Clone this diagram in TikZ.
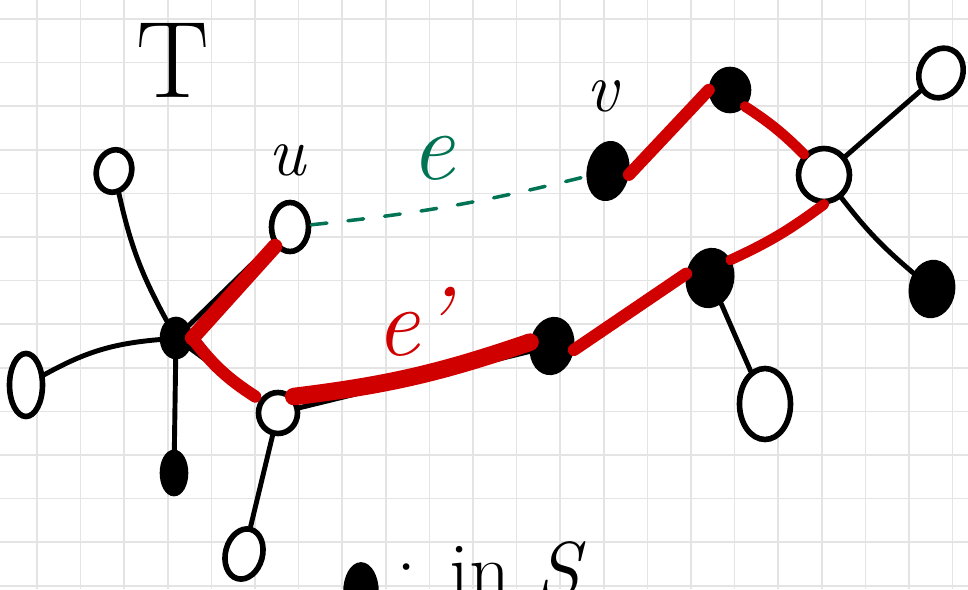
\documentclass[tikz,border=0pt]{standalone}
\usepackage{tikz}
\usetikzlibrary{positioning}
\usetikzlibrary{shapes.geometric}
\usetikzlibrary{calc}

\definecolor{penred}{RGB}{208,0,0}
\definecolor{pengreen}{RGB}{0,115,85}
\definecolor{gridgray}{RGB}{228,228,228}

\begin{document}
\begin{tikzpicture}[
  x=0.02cm, y=-0.02cm,
  vopen/.style 2 args={
    ellipse,
    draw=black,
    line width=3.2pt,
    fill=white,
    inner sep=0pt,
    minimum width=#1,
    minimum height=#2
  },
  vfull/.style 2 args={
    ellipse,
    draw=black,
    line width=3.2pt,
    fill=black,
    inner sep=0pt,
    minimum width=#1,
    minimum height=#2
  },
  tedge/.style={line width=2.8pt, line cap=round, black},
  pedge/.style={line width=#1, line cap=round, penred},
  pedge/.default=7pt,
  bridge/.style={line width=2pt, line cap=round, pengreen, dash pattern=on 9pt off 12pt},
  gridline/.style={line width=1pt, gridgray},
  lbl/.style={inner sep=0pt, font=\fontsize{40}{40}\selectfont\itshape}
]

% ===================== paper =====================
\useasboundingbox (0,0) rectangle (968,589);
\clip (0,0) rectangle (968,589);
\fill[white] (0,0) rectangle (968,589);
\foreach \k in {0,...,21}
  \draw[gridline] (37+43.6*\k,0) -- (37+43.6*\k,589);
\foreach \k in {0,...,13}
  \draw[gridline] (0,19+43.6*\k) -- (968,19+43.6*\k);

% ===================== tree T =====================
\node[vopen={0.7cm}{0.86cm}, rotate=-15] (tl)   at (114,171) {};
\node[vopen={0.74cm}{0.98cm}]             (u)    at (290,227) {};
\node[vopen={0.66cm}{1.26cm}]             (lft)  at (26,385)  {};
\node[vopen={0.78cm}{0.82cm}]             (low)  at (278,413) {};
\node[vopen={0.74cm}{1.02cm}, rotate=-15] (bot)  at (244,554) {};
\node[vopen={1.02cm}{1.42cm}]             (rlow) at (765,404) {};
\node[vopen={1.02cm}{1.06cm}]             (rhub) at (824,175) {};
\node[vopen={0.86cm}{1.02cm}, rotate=-25] (tr)   at (941,73)  {};

\node[vfull={0.54cm}{0.74cm}]             (hub)  at (176,338) {};
\node[vfull={0.46cm}{0.82cm}]             (bl)   at (174,473) {};
\node[vfull={0.78cm}{1.06cm}, rotate=-10] (mid)  at (552,346) {};
\node[vfull={0.86cm}{1.1cm}, rotate=-10]  (rmid) at (710,278) {};
\node[vfull={0.74cm}{1.1cm}, rotate=-10]  (v)    at (608,171) {};
\node[vfull={0.74cm}{0.82cm}]             (top)  at (730,90)  {};
\node[vfull={0.82cm}{1.06cm}, rotate=-8]  (rb)   at (932,289) {};

\draw[tedge] (tl) to[bend right=8] (hub);
\draw[tedge] (lft) to[bend left=12] (hub);
\draw[tedge] (hub) -- (bl);
\draw[tedge] (u) -- (hub);
\draw[tedge] (hub) -- (low);
\draw[tedge] (low) -- (bot);
\draw[tedge] (low) -- (mid);
\draw[tedge] (rmid) -- (rlow);
\draw[tedge] (rhub) -- (tr);
\draw[tedge] (rhub) to[bend right=6] (rb);

% ===================== path in T =====================
\draw[pedge=8.5pt] (u.south west) -- (hub.east);
\draw[pedge] (hub.east) to[bend right=10] ([xshift=-4pt]low.north west);
\draw[pedge=10pt] (low.north east) to[bend right=6] (mid.west);
\draw[pedge] (mid.east) -- (rmid.west);
\draw[pedge=6pt] (rmid.north east) to[bend right=6] (rhub.south);
\draw[pedge=6pt] (top.south east) to[bend left=6] (rhub.north west);
\draw[pedge] (top.west) -- (v.east);

% ===================== non-tree edge =====================
\draw[bridge] (u) to[bend right=4] (v);

% ===================== labels =====================
\node[lbl, font=\fontsize{62}{62}\selectfont] (labT) at (173,60) {T};
\node[lbl] (labu) at (287,160) {u};
\node[lbl] (labv) at (602,96) {v};
\node[lbl, font=\fontsize{56}{56}\selectfont\itshape, pengreen] (labe) at (433,158) {e};
\node[lbl, font=\fontsize{56}{56}\selectfont\itshape, penred] (labf) at (412,322) {e'};

% ===================== key =====================
\node[vfull={0.6cm}{1.08cm}] (key) at (361,592) {};
\node[lbl, font=\fontsize{46}{46}\selectfont, anchor=base west] (keytext) at (396,598) {: in \textit{S}};

\end{tikzpicture}
\end{document}
